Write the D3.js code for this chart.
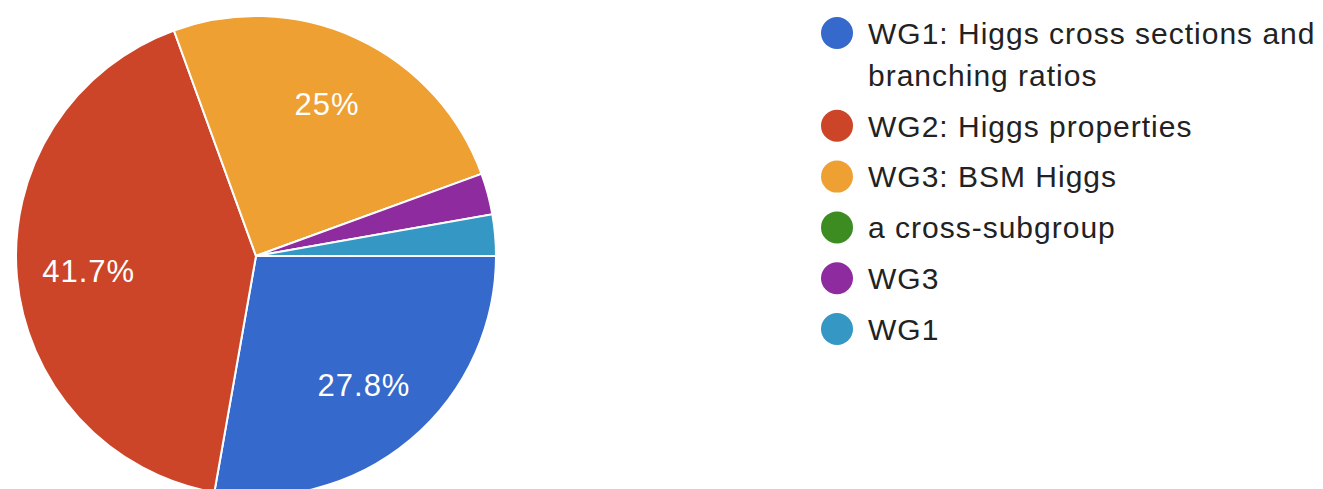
<!DOCTYPE html>
<html>
<head>
<meta charset="utf-8">
<script src="https://cdn.jsdelivr.net/npm/d3@7"></script>
<style>
  body { margin: 0; background: #fff; }
  svg { display: block; }
  text { font-family: "Liberation Sans", Arial, Helvetica, sans-serif; }
</style>
</head>
<body>
<script>
// answers per working group
var categories = ["WG1: Higgs cross sections and branching ratios", "WG2: Higgs properties",
                  "WG3: BSM Higgs", "a cross-subgroup", "WG3", "WG1"];
var legendLines = [["WG1: Higgs cross sections and", "branching ratios"], ["WG2: Higgs properties"],
                   ["WG3: BSM Higgs"], ["a cross-subgroup"], ["WG3"], ["WG1"]];
var counts = [10, 15, 9, 0, 1, 1];
var colors = ["#3569cc", "#cc4529", "#eea032", "#3d8c22", "#8e2b9f", "#3597c4"];

var width = 1323, height = 489;
var cx = 256, cy = 256, radius = 240;

var svg = d3.select("body").append("svg")
   .attr("width", width)
   .attr("height", height);

var total = d3.sum(counts);
var data = categories.map(function(c, i) { return {name: c, value: counts[i], color: colors[i]}; });

// slices start at 3 o'clock and run clockwise
var pie = d3.pie()
   .sort(null)
   .value(function(d) { return d.value; })
   .startAngle(Math.PI / 2)
   .endAngle(Math.PI / 2 + 2 * Math.PI);

var arc = d3.arc().innerRadius(0).outerRadius(radius);
var labelArc = d3.arc().innerRadius(radius * 0.7).outerRadius(radius * 0.7);

var g = svg.append("g").attr("transform", "translate(" + cx + "," + cy + ")");
var arcs = pie(data);

g.selectAll("path")
   .data(arcs)
   .enter().append("path")
   .attr("d", arc)
   .attr("fill", function(d) { return d.data.color; })
   .attr("stroke", "#fff")
   .attr("stroke-width", 2);

var fmt = function(v) { return (Math.round(v / total * 1000) / 10) + "%"; };

// small slices get no percentage label
g.selectAll("text.pct")
   .data(arcs.filter(function(d) { return d.value / total > 0.05; }))
   .enter().append("text")
   .attr("class", "pct")
   .attr("transform", function(d) { return "translate(" + labelArc.centroid(d) + ")"; })
   .attr("text-anchor", "middle")
   .attr("dy", "0.36em")
   .attr("font-size", "31px")
   .attr("letter-spacing", "1px")
   .attr("fill", "#fff")
   .text(function(d) { return fmt(d.value); });

// legend on the right
var legend = svg.append("g").attr("transform", "translate(837,33)");
var rowY = 0;
legendLines.forEach(function(lines, i) {
   var row = legend.append("g").attr("transform", "translate(0," + rowY + ")");
   row.append("circle")
      .attr("r", 16)
      .attr("fill", colors[i]);
   lines.forEach(function(t, j) {
      row.append("text")
         .attr("x", 31)
         .attr("y", j * 42)
         .attr("dy", "0.36em")
         .attr("font-size", "30px")
         .attr("letter-spacing", "1px")
         .attr("fill", "#222")
         .text(t);
   });
   rowY += 50.8 + (lines.length - 1) * 42;
});
</script>
</body>
</html>
